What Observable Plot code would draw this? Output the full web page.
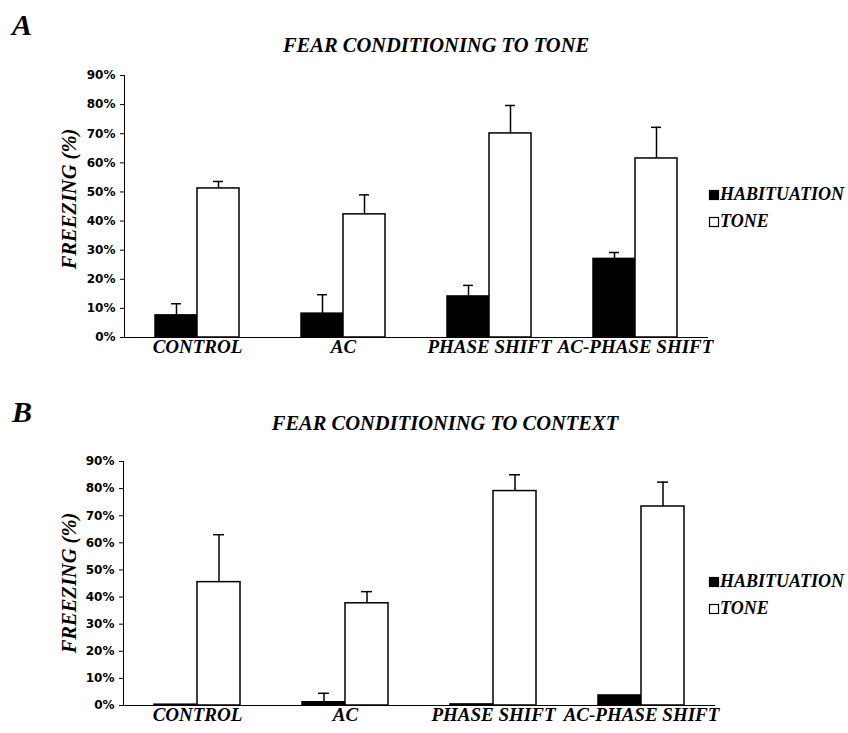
<!DOCTYPE html>
<html><head><meta charset="utf-8">
<script src="https://cdn.jsdelivr.net/npm/d3@7"></script>
<script src="https://cdn.jsdelivr.net/npm/@observablehq/plot@0.6"></script>
<style>
body{margin:0;background:#fff;}
#wrap{position:relative;width:848px;height:733px;overflow:hidden;background:#fff;}
#wrap > div, #wrap > svg{position:absolute;left:0;}
</style>
</head><body>
<div id="wrap"></div>
<script>
const categories = ["CONTROL", "AC", "PHASE SHIFT", "AC-PHASE SHIFT"];
const series = ["HABITUATION", "TONE"];
const yTicks = [0, 10, 20, 30, 40, 50, 60, 70, 80, 90];
const yLabel = "FREEZING (%)";

// Panel A: fear conditioning to tone
const titleA = "FEAR CONDITIONING TO TONE";
const toneHab = [7.6, 8.2, 14.1, 27.0];
const toneHabErr = [4.0, 6.5, 3.8, 2.2];
const toneTone = [51.2, 42.3, 70.1, 61.5];
const toneToneErr = [2.4, 6.7, 9.6, 10.7];

// Panel B: fear conditioning to context
const titleB = "FEAR CONDITIONING TO CONTEXT";
const ctxHab = [0.3, 1.2, 0.4, 3.7];
const ctxHabErr = [0, 3.3, 0, 0];
const ctxTone = [45.5, 37.7, 79.1, 73.4];
const ctxToneErr = [17.5, 4.3, 6.0, 9.0];

const SERIF = "'Liberation Serif', 'Times New Roman', serif";
const SANS = "'DejaVu Sans', sans-serif";

function buildRows(hab, habErr, tone, toneErr) {
  const rows = [];
  categories.forEach((c, i) => {
    rows.push({cat: c, series: series[0], value: hab[i], err: habErr[i]});
    rows.push({cat: c, series: series[1], value: tone[i], err: toneErr[i]});
  });
  return rows;
}

function panel(rows, o) {
  const errRows = rows.filter(d => d.err > 0);
  return Plot.plot({
    width: 848, height: o.height,
    marginLeft: o.left, marginRight: o.right, marginTop: o.top, marginBottom: o.bottom,
    style: {background: "transparent", overflow: "visible"},
    fx: {domain: categories, padding: 0, label: null},
    x: {domain: series, paddingInner: 0, paddingOuter: 0.72, axis: null},
    y: {domain: [0, 90], axis: null},
    color: {domain: series, range: ["#000", "#fff"]},
    marks: [
      Plot.ruleX(errRows, {fx: "cat", x: "series", y1: "value", y2: d => d.value + d.err, stroke: "#000", strokeWidth: 1.5}),
      Plot.tickY(errRows, {fx: "cat", x: "series", y: d => d.value + d.err, inset: 16, stroke: "#000", strokeWidth: 1.5}),
      Plot.barY(rows, {fx: "cat", x: "series", y: "value", fill: "series", stroke: "#000", strokeWidth: 1.5}),
      Plot.ruleY([0], {stroke: "#000", strokeWidth: 1.2}),
      Plot.frame({anchor: "left", facetAnchor: "left", stroke: "#000", strokeWidth: 1}),
      Plot.axisY({ticks: yTicks, tickFormat: d => d + "%", tickSize: 4, tickPadding: 5,
        fontFamily: SANS, fontWeight: "bold", fontSize: 12, label: null, stroke: "#000", fill: "#000"}),
      Plot.axisFx({anchor: "bottom", tickSize: 0, tickPadding: 2, fontFamily: SERIF, fontStyle: "italic",
        fontWeight: "bold", fontSize: 19, label: null, fill: "#000"})
    ]
  });
}

const wrap = document.getElementById("wrap");

const A = panel(buildRows(toneHab, toneHabErr, toneTone, toneToneErr), {height: 365, left: 123, right: 139, top: 75, bottom: 28});
const dA = document.createElement("div"); dA.style.top = "0px"; dA.appendChild(A); wrap.appendChild(dA);

const B = panel(buildRows(ctxHab, ctxHabErr, ctxTone, ctxToneErr), {height: 365, left: 122, right: 132, top: 93, bottom: 28});
const dB = document.createElement("div"); dB.style.top = "368px"; dB.appendChild(B); wrap.appendChild(dB);

// Annotation overlay (panel letters, titles, axis labels, legends)
const svg = d3.select(wrap).append("svg").attr("width", 848).attr("height", 733)
  .style("top", "0px").style("pointer-events", "none");

function annotate(letter, title, titleX, titleY, letterY, labelY, legendY) {
  svg.append("text").attr("x", 12).attr("y", letterY).text(letter)
    .attr("font-family", SERIF).attr("font-style", "italic").attr("font-weight", "bold").attr("font-size", 30);
  svg.append("text").attr("x", titleX).attr("y", titleY).attr("text-anchor", "middle").text(title)
    .attr("font-family", SERIF).attr("font-style", "italic").attr("font-weight", "bold").attr("font-size", 20.5);
  svg.append("text").attr("transform", `translate(76,${labelY}) rotate(-90)`).attr("text-anchor", "middle").text(yLabel)
    .attr("font-family", SERIF).attr("font-style", "italic").attr("font-weight", "bold").attr("font-size", 20.5);
  series.forEach((s, i) => {
    const y = legendY + i * 27;
    svg.append("rect").attr("x", 709.5).attr("y", y - 9.5).attr("width", 9).attr("height", 9)
      .attr("fill", i === 0 ? "#000" : "#fff").attr("stroke", "#000").attr("stroke-width", 1.2);
    svg.append("text").attr("x", 720).attr("y", y).text(s)
      .attr("font-family", SERIF).attr("font-style", "italic").attr("font-weight", "bold").attr("font-size", 18);
  });
}
annotate("A", titleA, 436, 52, 35, 199, 200);
annotate("B", titleB, 445, 430, 422, 583, 587);
</script>
</body></html>
